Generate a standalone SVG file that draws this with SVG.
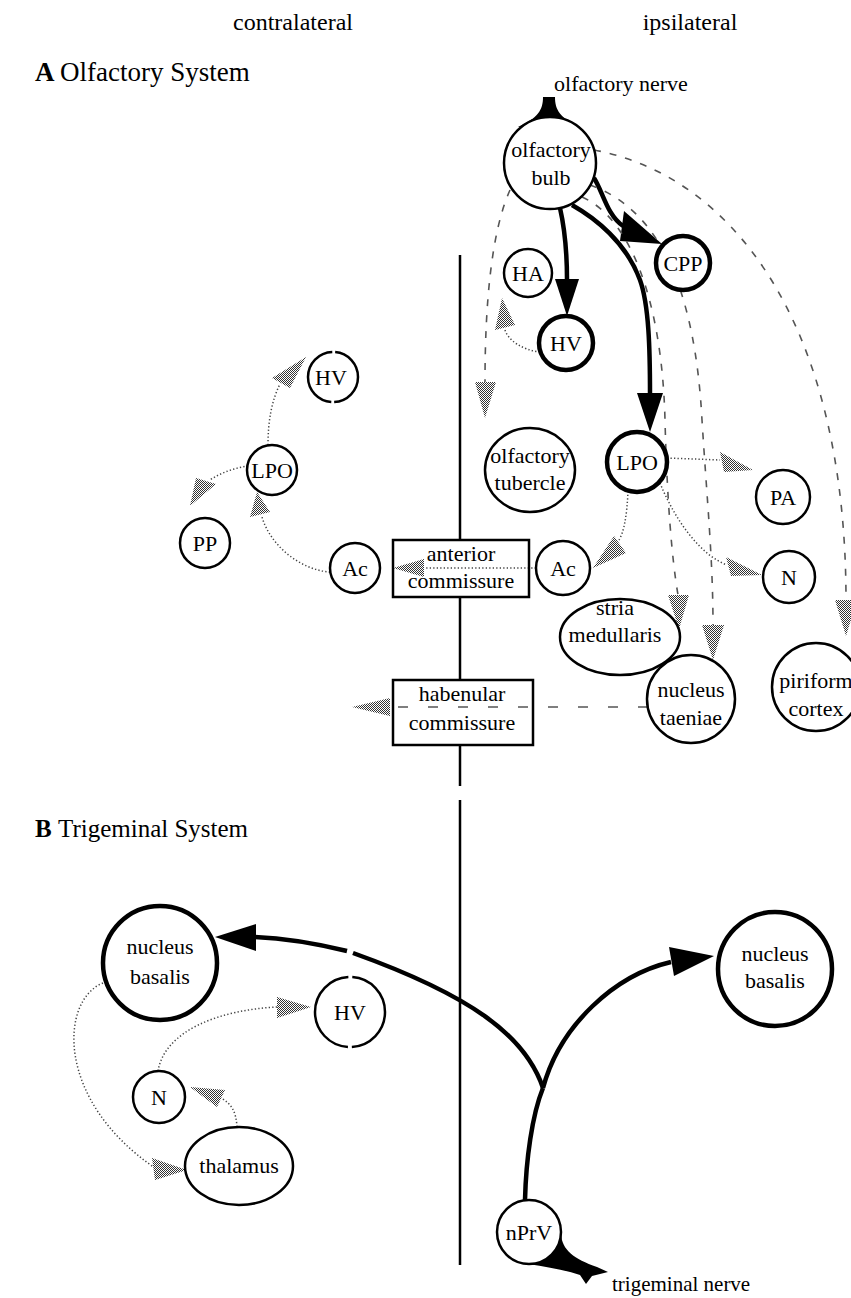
<svg xmlns="http://www.w3.org/2000/svg" width="851" height="1298" viewBox="0 0 851 1298">
<defs>
<pattern id="stip" width="2" height="2" patternUnits="userSpaceOnUse"><rect width="2" height="2" fill="#fff"/><rect x="0" y="0" width="1" height="1" fill="#333"/><rect x="1" y="1" width="1" height="1" fill="#333"/></pattern>
</defs>
<style>
text{font-family:"Liberation Serif","Times New Roman",serif;font-size:22px;fill:#000}
.c{text-anchor:middle}
.n{fill:#fff;stroke:#000;stroke-width:2.5}
.nk{fill:#fff;stroke:#000;stroke-width:4.5}
.b{fill:none;stroke:#000;stroke-width:2.5}
.thick{fill:none;stroke:#000;stroke-width:4.5}
.ah{fill:#000}
.dash{fill:none;stroke:#555;stroke-width:1.6;stroke-dasharray:7 9}
.dot{fill:none;stroke:#444;stroke-width:1.5;stroke-dasharray:1.3 2.2}
.wav{fill:none;stroke:#555;stroke-width:1.6;stroke-dasharray:10 20}
.ga{fill:url(#stip)}
.mid{stroke:#000;stroke-width:2.5}
</style>
<rect width="851" height="1298" fill="#fff"/>
<g id="labels">
<text x="293" y="30" class="c" style="font-size:24px">contralateral</text>
<text x="690" y="30" class="c" style="font-size:24px">ipsilateral</text>
<text x="35" y="81" style="font-size:27px"><tspan font-weight="bold">A</tspan><tspan x="60">Olfactory System</tspan></text>
<text x="621" y="91" class="c" style="font-size:22px">olfactory nerve</text>
<text x="35" y="837" style="font-size:25px"><tspan font-weight="bold">B</tspan><tspan x="58">Trigeminal System</tspan></text>
<text x="612" y="1291" style="font-size:21px">trigeminal nerve</text>
</g>
<g id="midline">
<line class="mid" x1="460" y1="255" x2="460" y2="540"/>
<line class="mid" x1="460" y1="597" x2="460" y2="680"/>
<line class="mid" x1="460" y1="745" x2="460" y2="786"/>
<line class="mid" x1="460" y1="800" x2="460" y2="1265"/>
</g>
<g id="connectors">
<!-- olfactory bulb projections -->
<path class="thick" d="M560 208 C565 230 567 255 567 280"/>
<polygon class="ah" points="555,279 579,279 567,316"/>
<path class="thick" d="M572 205 C595 218 626 242 640 280 C649 305 650 350 650 395"/>
<polygon class="ah" points="637,393 663,393 650,432"/>
<path class="thick" d="M594 178 C603 192 607 215 623 226"/>
<polygon class="ah" points="624,211 620,241 662,244"/>
<path class="dash" d="M510 190 C492 230 485 300 485 382"/>
<polygon class="ga" points="475,382 496,382 485,418"/>
<path class="dash" d="M590 185 C660 210 695 290 702 420 C707 500 713 560 713 625"/>
<polygon class="ga" points="702,625 724,625 713,660"/>
<path class="dash" d="M582 197 C630 218 662 300 665 420 C667 500 672 560 678 595"/>
<polygon class="ga" points="668,595 689,595 679,629"/>
<path class="dash" d="M594 150 C730 175 846 320 846 600"/>
<polygon class="ga" points="835,600 857,600 846,636"/>
<!-- ipsilateral secondary -->
<path class="dot" d="M540 352 C522 350 508 340 505 330"/>
<polygon class="ga" points="495,330 515,325 502,298"/>
<path class="dot" d="M667 458 L720 460"/>
<polygon class="ga" points="720,452 724,472 753,470"/>
<path class="dot" d="M660 483 C675 520 700 555 727 565"/>
<polygon class="ga" points="726,557 731,576 762,575"/>
<path class="dot" d="M628 491 C627 515 624 532 619 540"/>
<polygon class="ga" points="614,536 626,553 593,568"/>
<path class="dot" d="M536 568 L424 568"/>
<polygon class="ga" points="393,568 424,559 424,577"/>
<path class="wav" d="M648 707 L390 707"/>
<polygon class="ga" points="352,707 390,698 390,716"/>
<!-- contralateral -->
<path class="dot" d="M330 572 C300 570 270 545 262 517"/>
<polygon class="ga" points="250,517 270,512 257,492"/>
<path class="dot" d="M268 445 C268 420 272 400 280 384"/>
<polygon class="ga" points="272,378 290,388 306,357"/>
<path class="dot" d="M248 466 C235 468 222 472 210 480"/>
<polygon class="ga" points="196,478 216,484 190,506"/>
<!-- trigeminal -->
<path class="thick" d="M525 1200 C526 1160 532 1115 543 1088"/>
<path class="thick" d="M543 1088 C525 1035 470 995 353 953"/>
<path class="thick" d="M347 951 C310 942 280 938 255 937"/>
<polygon class="ah" points="215,937 256,924 256,951"/>
<path class="thick" d="M543 1088 C560 1025 615 975 671 962"/>
<polygon class="ah" points="669,947 674,976 714,956"/>
<path class="dot" d="M158 1071 C165 1030 220 1010 277 1007"/>
<polygon class="ga" points="277,997 277,1018 311,1007"/>
<path class="dot" d="M237 1127 C236 1112 232 1104 221 1098"/>
<polygon class="ga" points="190,1087 225,1090 217,1107"/>
<path class="dot" d="M103 983 C60 1000 55 1100 155 1168"/>
<polygon class="ga" points="152,1158 155,1180 187,1170"/>
</g>
<g id="olfactory-bulb">
<path d="M543 97 L555 97 C555 110 560 118 580 127 L518 127 C538 118 543 110 543 97 Z" fill="#000"/>
<circle class="n" cx="550" cy="163" r="46"/>
<text x="551" y="157" class="c">olfactory</text>
<text x="551" y="185" class="c">bulb</text>
</g>
<g id="HA"><circle class="n" cx="528" cy="273" r="24"/><text x="528" y="281" class="c">HA</text></g>
<g id="CPP"><circle class="nk" cx="683" cy="263" r="27"/><text x="683" y="271" class="c">CPP</text></g>
<g id="HV-ipsi"><circle class="nk" cx="566" cy="343" r="27"/><text x="566" y="351" class="c">HV</text></g>
<g id="olfactory-tubercle"><ellipse class="n" cx="530" cy="470" rx="45" ry="42"/><text x="530" y="463" class="c">olfactory</text><text x="530" y="490" class="c">tubercle</text></g>
<g id="LPO-ipsi"><circle class="nk" cx="637" cy="462" r="30"/><text x="637" y="470" class="c">LPO</text></g>
<g id="PA"><circle class="n" cx="783" cy="497" r="27"/><text x="783" y="505" class="c">PA</text></g>
<g id="N-ipsi"><circle class="n" cx="789" cy="577" r="26"/><text x="789" y="585" class="c">N</text></g>
<g id="Ac-ipsi"><circle class="n" cx="563" cy="568" r="27"/><text x="563" y="576" class="c">Ac</text></g>
<g id="anterior-commissure"><rect class="b" x="393" y="540" width="136" height="57"/><text x="461" y="561" class="c">anterior</text><text x="461" y="588" class="c">commissure</text></g>
<g id="stria-medullaris"><ellipse class="n" cx="620" cy="637" rx="60" ry="38"/><text x="615" y="615" class="c">stria</text><text x="615" y="642" class="c">medullaris</text></g>
<g id="nucleus-taeniae"><circle class="n" cx="691" cy="699" r="44"/><text x="691" y="697" class="c">nucleus</text><text x="691" y="725" class="c">taeniae</text></g>
<g id="piriform-cortex"><circle class="n" cx="816" cy="687" r="44"/><text x="816" y="688" class="c">piriform</text><text x="816" y="716" class="c">cortex</text></g>
<g id="habenular-commissure"><rect class="b" x="393" y="680" width="140" height="65"/><text x="462" y="701" class="c">habenular</text><text x="462" y="730" class="c">commissure</text></g>
<g id="HV-contra"><circle class="n" cx="333" cy="377" r="25" style="stroke-dasharray:37.8 3 75.5 3 37.8 0"/><text x="331" y="385" class="c">HV</text></g>
<g id="LPO-contra"><circle class="n" cx="272" cy="470" r="25"/><text x="272" y="478" class="c">LPO</text></g>
<g id="PP"><circle class="n" cx="205" cy="543" r="25"/><text x="205" y="551" class="c">PP</text></g>
<g id="Ac-contra"><circle class="n" cx="355" cy="568" r="25"/><text x="355" y="576" class="c">Ac</text></g>
<g id="nucleus-basalis-contra"><circle class="nk" cx="160" cy="963" r="57"/><text x="160" y="954" class="c">nucleus</text><text x="160" y="984" class="c">basalis</text></g>
<g id="nucleus-basalis-ipsi"><circle class="nk" cx="775" cy="969" r="57"/><text x="775" y="961" class="c">nucleus</text><text x="775" y="988" class="c">basalis</text></g>
<g id="HV-trig"><circle class="n" cx="350" cy="1012" r="35" style="stroke-dasharray:53 4 106 4 53 0"/><text x="350" y="1020" class="c">HV</text></g>
<g id="N-trig"><circle class="n" cx="159" cy="1097" r="26"/><text x="159" y="1105" class="c">N</text></g>
<g id="thalamus"><ellipse class="n" cx="239" cy="1166" rx="54" ry="39"/><text x="239" y="1173" class="c">thalamus</text></g>
<g id="nPrV">
<path d="M561 1234 C562 1250 574 1259 597 1267 L608 1272 L592 1276 L586 1284 L580 1275 C565 1270 548 1267 528 1264 A32 32 0 0 0 561 1234 Z" fill="#000"/>
<circle class="n" cx="529" cy="1232" r="32"/><text x="529" y="1240" class="c">nPrV</text>
</g>
</svg>
